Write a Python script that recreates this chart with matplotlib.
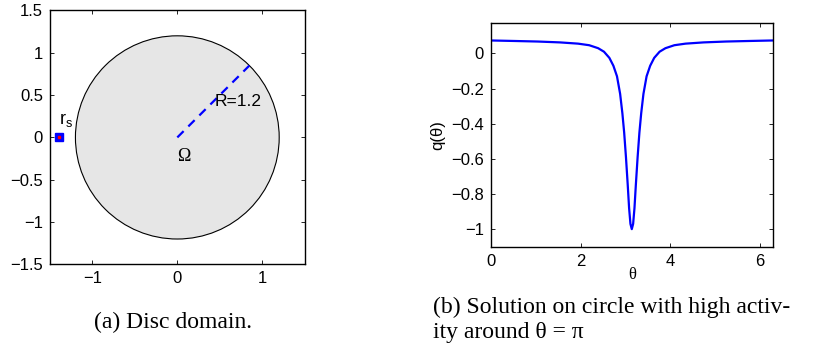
import numpy as np
import matplotlib
matplotlib.use('Agg')
import matplotlib.pyplot as plt
from matplotlib.patches import Circle
from matplotlib.ticker import FuncFormatter

plt.rcParams['font.family'] = ['Liberation Sans', 'DejaVu Sans']
plt.rcParams['mathtext.fontset'] = 'stix'

# disc domain
radius = 1.2
source_pos = (-1.39, 0.0)
radius_angle_deg = 45
disc_ticks = [-1.5, -1, -0.5, 0, 0.5, 1, 1.5]
disc_xticks = [-1, 0, 1]

# solution on the circle
theta = [0.00, 0.54, 1.04, 1.54, 1.94, 2.19, 2.39, 2.52, 2.64, 2.73, 2.81,
         2.88, 2.93, 2.97, 3.01, 3.05, 3.08, 3.11, 3.14,
         3.17, 3.20, 3.23, 3.27, 3.31, 3.35, 3.40, 3.47, 3.55, 3.64, 3.76,
         3.89, 4.09, 4.34, 4.74, 5.24, 5.74, 6.28]
q_theta = [0.074, 0.071, 0.068, 0.063, 0.056, 0.047, 0.030, 0.010, -0.025,
           -0.07, -0.13, -0.23, -0.34, -0.45, -0.59, -0.75, -0.88, -0.97, -1.0,
           -0.97, -0.88, -0.75, -0.59, -0.45, -0.34, -0.23, -0.13, -0.07,
           -0.025, 0.010, 0.030, 0.047, 0.056, 0.063, 0.068, 0.071, 0.074]
sol_xticks = [0, 2, 4, 6]
sol_yticks = [-1, -0.8, -0.6, -0.4, -0.2, 0]

fmt = FuncFormatter(lambda v, p: ('%g' % v).replace('-', '\u2212'))

fig = plt.figure(figsize=(8.19, 3.47), dpi=100)

# (a) disc
ax1 = fig.add_axes([0.061, 0.238, 0.311, 0.732])
ax1.add_patch(Circle((0, 0), radius, facecolor='#e6e6e6', edgecolor='black', lw=0.8))
ang = np.deg2rad(radius_angle_deg)
ax1.plot([0, radius * np.cos(ang)], [0, radius * np.sin(ang)], color='blue',
         ls=(0, (4, 3)), lw=1.6)
ax1.plot(*source_pos, marker='s', ms=6, color='blue', mec='blue')
ax1.plot(*source_pos, marker='s', ms=2, color='red', mec='red')
ax1.text(0.44, 0.42, 'R=1.2', fontsize=12.5, va='center', ha='left')
ax1.text(0.07, -0.22, 'Ω', fontsize=13, va='center', ha='center', family='Liberation Serif')
ax1.text(-1.39, 0.2, r'$\mathregular{r_s}$', fontsize=13, va='center', ha='left')
ax1.set_xlim(-1.5, 1.5)
ax1.set_ylim(-1.5, 1.5)
ax1.set_xticks(disc_xticks)
ax1.set_yticks(disc_ticks)

# (b) solution
ax2 = fig.add_axes([0.5995, 0.289, 0.344, 0.6455])
ax2.plot(theta, q_theta, color='blue', lw=1.6)
ax2.set_xlim(0, 2 * np.pi)
ax2.set_ylim(-1.1, 0.175)
ax2.set_xticks(sol_xticks)
ax2.set_yticks(sol_yticks)
ax2.set_xlabel('θ', fontsize=12, labelpad=-1, family='Liberation Serif')
ax2.set_ylabel('q(θ)', fontsize=12, labelpad=4)

for ax in (ax1, ax2):
    ax.xaxis.set_major_formatter(fmt)
    ax.yaxis.set_major_formatter(fmt)
    ax.tick_params(direction='in', length=3, width=0.6, top=True, right=True,
                   labelsize=12, pad=5)
    for s in ax.spines.values():
        s.set_linewidth(1.0)

fig.text(0.211, 0.072, '(a) Disc domain.', fontsize=17, ha='center', va='center',
         family='Liberation Serif')
fig.text(0.529, 0.115, '(b) Solution on circle with high activ-', fontsize=17,
         ha='left', va='center', family='Liberation Serif')
fig.text(0.529, 0.042, 'ity around θ = π', fontsize=17,
         ha='left', va='center', family='Liberation Serif')

fig.savefig('out.png', dpi=100)
